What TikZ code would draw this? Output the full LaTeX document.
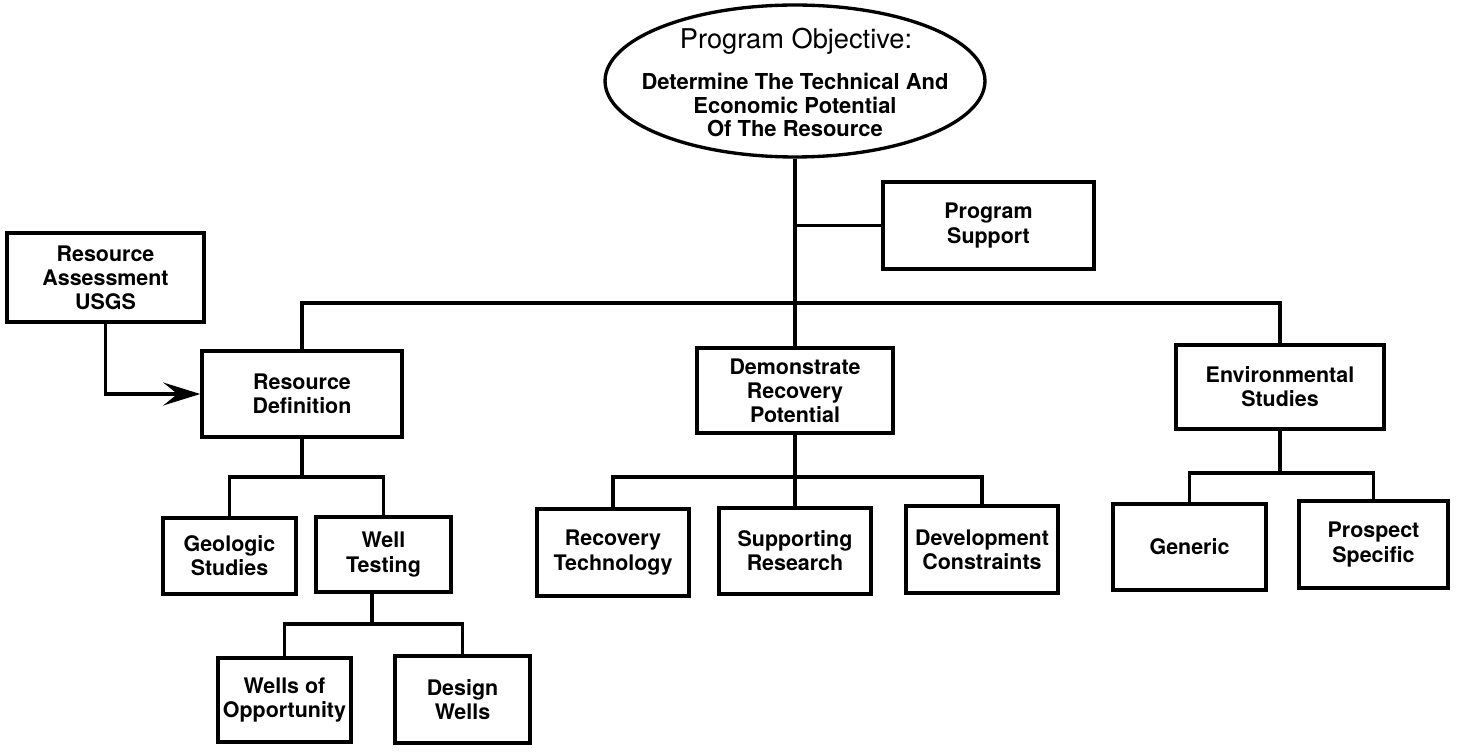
\documentclass[tikz,border=0pt]{standalone}
\usepackage{fontspec}
\setmainfont{TeX Gyre Heros}
\usetikzlibrary{arrows.meta,shapes.geometric}
\begin{document}
\begin{tikzpicture}[x=0.02cm,y=-0.02cm,
  box/.style={draw, line width=2pt, inner sep=0pt, align=center,
    font=\bfseries\fontsize{12.2}{13.7}\selectfont},
  conn/.style={line width=2pt},
  head/.style={inner sep=0pt, font=\fontsize{15.5}{18}\selectfont},
  body/.style={inner sep=0pt, align=center, font=\bfseries\fontsize{12.5}{13.2}\selectfont}]
\useasboundingbox (0,0) rectangle (1458,753);
% objective ellipse
\node[ellipse, draw, line width=1.9pt, minimum width=7.6cm, minimum height=3.04cm] (obj) at (795,81) {};
\node[head] (objh) at (796,41) {Program Objective:};
\node[body] (objb) at (795,105) {Determine The Technical And\\Economic Potential\\Of The Resource};
% boxes
\node[box, minimum width=3.94cm, minimum height=1.78cm] (RA) at (105.5,277.5) {Resource\\Assessment\\USGS};
\node[box, minimum width=4.00cm, minimum height=1.72cm] (RD) at (302,394) {Resource\\Definition};
\node[box, minimum width=2.66cm, minimum height=1.52cm] (GS) at (229.5,556) {Geologic\\Studies};
\node[box, minimum width=2.70cm, minimum height=1.50cm] (WT) at (383.5,554.5) {Well\\Testing};
\node[box, minimum width=2.66cm, minimum height=1.68cm] (WO) at (284.5,700) {Wells of\\Opportunity};
\node[box, minimum width=2.70cm, minimum height=1.74cm] (DW) at (462.5,699.5) {Design\\Wells};
\node[box, minimum width=4.22cm, minimum height=1.74cm] (PS) at (988.5,225.5) {Program\\Support};
\node[box, minimum width=3.92cm, minimum height=1.70cm] (DRP) at (795,390.5) {Demonstrate\\Recovery\\Potential};
\node[box, minimum width=3.04cm, minimum height=1.74cm] (RT) at (613,552.5) {Recovery\\Technology};
\node[box, minimum width=3.04cm, minimum height=1.72cm] (SR) at (795,551) {Supporting\\Research};
\node[box, minimum width=3.04cm, minimum height=1.74cm] (DC) at (982,549.5) {Development\\Constraints};
\node[box, minimum width=4.16cm, minimum height=1.68cm] (ES) at (1280,387) {Environmental\\Studies};
\node[box, minimum width=3.06cm, minimum height=1.72cm] (GE) at (1189.5,547) {Generic};
\node[box, minimum width=2.98cm, minimum height=1.74cm] (PSp) at (1373.5,544.5) {Prospect\\Specific};
% junction points
\coordinate (bus) at (795,303);
\coordinate (rdj) at (302,477);
\coordinate (wtj) at (372,624);
\coordinate (drj) at (795,477);
\coordinate (esj) at (1280,473);
% connectors
\draw[conn] (obj.south) -- (DRP.north);
\draw[conn] (RD.north) |- (bus) -| (ES.north);
\draw[conn] (PS.west) -- (PS.west -| obj.south);
\draw[conn] (RD.south) -- (rdj);
\draw[conn] (GS.north) |- (rdj) -| (WT.north);
\draw[conn] (wtj |- WT.south) -- (wtj);
\draw[conn] (WO.north) |- (wtj) -| (DW.north);
\draw[conn] (DRP.south) -- (SR.north);
\draw[conn] (RT.north) |- (drj) -| (DC.north);
\draw[conn] (ES.south) -- (esj);
\draw[conn] (GE.north) |- (esj) -| (PSp.north);
\draw[conn, -{Stealth[length=21pt,width=13pt,inset=8pt]}] (RA.south) |- (RD.west);
\end{tikzpicture}
\end{document}
